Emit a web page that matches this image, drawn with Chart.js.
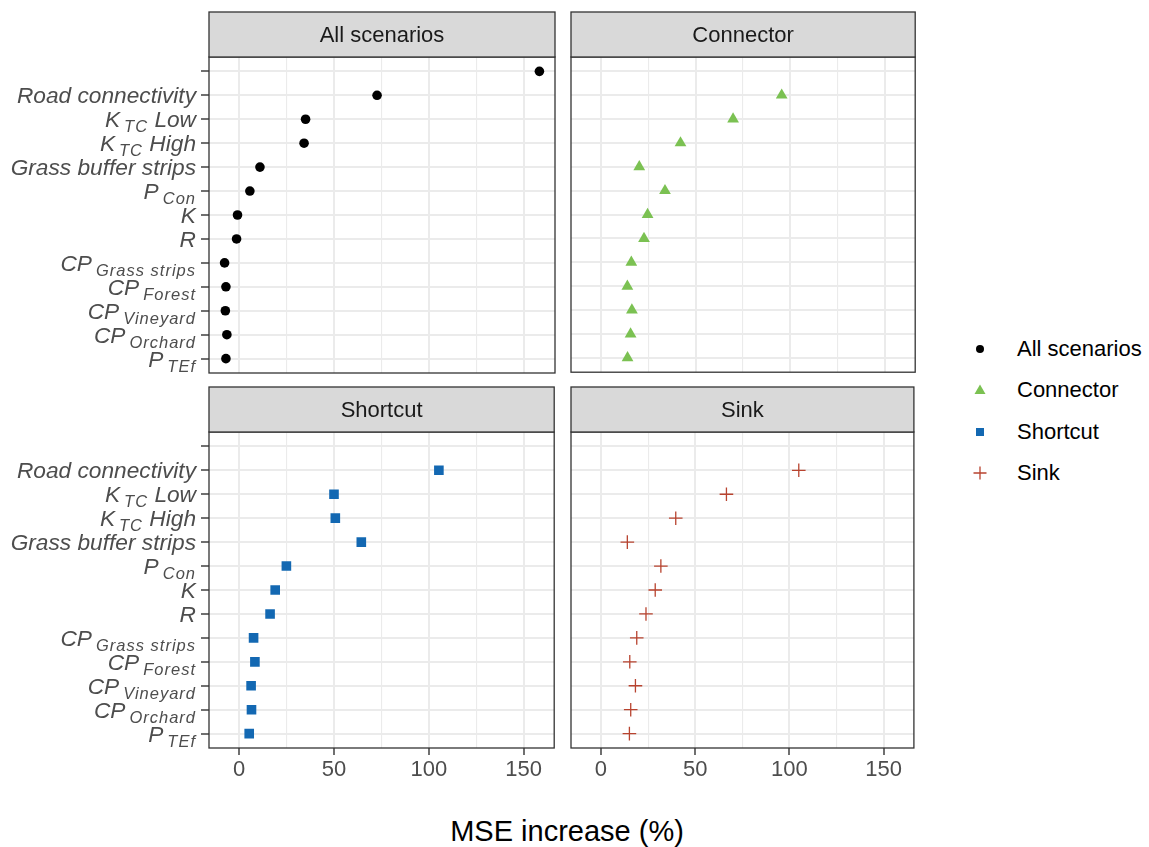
<!DOCTYPE html>
<html>
<head>
<meta charset="utf-8">
<script src="https://cdn.jsdelivr.net/npm/chart.js@4.4.0/dist/chart.umd.min.js"></script>
<style>
  body { margin: 0; background: #fff; }
  #wrap { position: relative; width: 1149px; height: 847px; font-family: "Liberation Sans", Arial, sans-serif; }
  canvas { position: absolute; }
  .leg { position: absolute; left: 968px; height: 30px; display: flex; align-items: center; font-size: 22px; color: #000; }
  .leg svg { width: 24px; height: 24px; margin-right: 25px; }
  #xtitle { position: absolute; left: 0; width: 1134px; top: 815px; text-align: center; font-size: 29px; color: #000; }
</style>
</head>
<body>
<div id="wrap">
  <canvas id="c0"></canvas>
  <canvas id="c1"></canvas>
  <canvas id="c2"></canvas>
  <canvas id="c3"></canvas>
  <div class="leg" style="top:334px"><svg viewBox="0 0 24 24"><circle cx="12" cy="12" r="4" fill="#000"/></svg>All scenarios</div>
  <div class="leg" style="top:375px"><svg viewBox="0 0 24 24"><polygon points="12,6.5 17.5,16 6.5,16" fill="#7bc152"/></svg>Connector</div>
  <div class="leg" style="top:417px"><svg viewBox="0 0 24 24"><rect x="8" y="8" width="8" height="8" fill="#1368b2"/></svg>Shortcut</div>
  <div class="leg" style="top:458px"><svg viewBox="0 0 24 24"><path d="M5.5 12H18.5M12 5.5V18.5" stroke="#b8432f" stroke-width="1.3"/></svg>Sink</div>
  <div id="xtitle">MSE increase (%)</div>
</div>
<script>
// categories, top to bottom (first one has no label)
const categories = ["", "Road connectivity", "K_{TC} Low", "K_{TC} High", "Grass buffer strips",
  "P_{Con}", "K", "R", "CP_{Grass strips}", "CP_{Forest}", "CP_{Vineyard}", "CP_{Orchard}", "P_{TEf}"];

const allScenarios = [157.9, 72.5, 34.9, 34.1, 10.9, 5.6, -0.9, -1.4, -7.7, -7.0, -7.3, -6.5, -7.0];
const connector    = [null, 95.5, 69.8, 42.0, 20.2, 33.8, 24.6, 22.7, 16.0, 13.9, 16.3, 15.6, 14.0];
const shortcut     = [null, 105.3, 50.0, 50.7, 64.4, 24.9, 19.0, 16.3, 7.6, 8.3, 6.3, 6.5, 5.3];
const sink         = [null, 105.0, 66.6, 39.7, 14.0, 31.8, 28.8, 23.9, 19.0, 15.3, 18.3, 15.8, 15.1];

const xTicks = [0, 25, 50, 75, 100, 125, 150];

const colX = [[209, 555], [571, 916]];
const rowY = [[57, 373], [432, 748]];
const stripH = 45;
const FONT = '"Liberation Sans", Arial, sans-serif';

const panels = [
  { id: 'c0', title: 'All scenarios', values: allScenarios, col: 0, row: 0,
    point: { pointStyle: 'circle', radius: 4.8, backgroundColor: '#000', borderWidth: 0 } },
  { id: 'c1', title: 'Connector', values: connector, col: 1, row: 0,
    point: { pointStyle: 'triangle', radius: 6.8, backgroundColor: '#7bc152', borderWidth: 0 } },
  { id: 'c2', title: 'Shortcut', values: shortcut, col: 0, row: 1,
    point: { pointStyle: 'rect', radius: 6.8, backgroundColor: '#1368b2', borderWidth: 0 } },
  { id: 'c3', title: 'Sink', values: sink, col: 1, row: 1,
    point: { pointStyle: 'cross', radius: 6.8, backgroundColor: '#b8432f', borderColor: '#b8432f', borderWidth: 1.3 } }
];

// draw a label with plotmath-like subscripts, right aligned
function drawLabel(ctx, label, xRight, y) {
  const parts = [];
  const re = /_\{([^}]*)\}/g;
  let last = 0, m;
  while ((m = re.exec(label))) {
    if (m.index > last) parts.push({ t: label.slice(last, m.index), sub: false });
    parts.push({ t: m[1], sub: true });
    last = re.lastIndex;
  }
  if (last < label.length) parts.push({ t: label.slice(last), sub: false });
  const mainFont = 'italic 22.7px ' + FONT;
  const subFont = 'italic 16.5px ' + FONT;
  let total = 0;
  parts.forEach(p => {
    ctx.font = p.sub ? subFont : mainFont;
    ctx.letterSpacing = p.sub ? '1px' : '0px';
    p.w = ctx.measureText(p.t).width + (p.sub ? 4 : 0);
    total += p.w;
  });
  let x = xRight - total;
  ctx.fillStyle = '#4d4d4d';
  ctx.textAlign = 'left';
  ctx.textBaseline = 'alphabetic';
  parts.forEach(p => {
    ctx.font = p.sub ? subFont : mainFont;
    ctx.letterSpacing = p.sub ? '1px' : '0px';
    ctx.fillText(p.t, x + (p.sub ? 4 : 0), p.sub ? y + 13 : y + 8);
    x += p.w;
  });
  ctx.letterSpacing = '0px';
}

const facetPlugin = {
  id: 'facet',
  afterDraw(chart, args, opts) {
    const ctx = chart.ctx;
    const a = chart.chartArea;
    ctx.save();
    // panel border
    ctx.strokeStyle = '#333333';
    ctx.lineWidth = 1.3;
    ctx.strokeRect(a.left, a.top, a.right - a.left, a.bottom - a.top);
    // strip
    ctx.fillStyle = '#d9d9d9';
    ctx.fillRect(a.left, a.top - stripH, a.right - a.left, stripH);
    ctx.strokeRect(a.left, a.top - stripH, a.right - a.left, stripH);
    ctx.fillStyle = '#1a1a1a';
    ctx.font = '22px ' + FONT;
    ctx.textAlign = 'center';
    ctx.textBaseline = 'middle';
    ctx.fillText(opts.title, (a.left + a.right) / 2, a.top - stripH / 2 + 1);
    // category labels on the left column
    if (opts.col === 0) {
      const ys = chart.scales.y;
      categories.forEach((c, i) => {
        if (c) drawLabel(ctx, c, a.left - 13, ys.getPixelForValue(i));
      });
    }
    ctx.restore();
  }
};

panels.forEach(p => {
  const cv = document.getElementById(p.id);
  const [pl, pr] = colX[p.col];
  const [pt, pb] = rowY[p.row];
  const cLeft = p.col === 0 ? 0 : 560;
  const cTop = pt - 50;
  const cRight = pr + 6;
  const cBottom = p.row === 1 ? 800 : pb + 6;
  cv.style.left = cLeft + 'px';
  cv.style.top = cTop + 'px';
  cv.width = cRight - cLeft;
  cv.height = cBottom - cTop;
  const bottomRow = p.row === 1;

  new Chart(cv, {
    type: 'scatter',
    data: {
      datasets: [Object.assign({
        label: p.title,
        data: p.values.map((v, i) => v === null ? null : { x: v, y: i }).filter(d => d)
      }, p.point)]
    },
    options: {
      responsive: false,
      animation: false,
      layout: { padding: { top: 50, right: 6, left: 0, bottom: bottomRow ? 0 : 6 } },
      plugins: {
        legend: { display: false },
        tooltip: { enabled: false },
        facet: { title: p.title, col: p.col }
      },
      scales: {
        x: {
          type: 'linear',
          min: -15.9,
          max: 166.1,
          afterBuildTicks: s => { s.ticks = xTicks.map(v => ({ value: v })); },
          afterFit: s => {
            s.height = bottomRow ? cBottom - pb : 0;
            s.paddingLeft = 0;
            s.paddingRight = 0;
          },
          border: { display: false },
          grid: {
            color: '#ebebeb',
            lineWidth: c => (c.tick && c.tick.value % 50 === 0) ? 2 : 1.1,
            drawTicks: bottomRow,
            tickLength: 7,
            tickWidth: 1.4,
            tickColor: c => (c.tick && c.tick.value % 50 === 0) ? '#333333' : 'rgba(0,0,0,0)'
          },
          ticks: {
            display: bottomRow,
            autoSkip: false,
            maxRotation: 0,
            padding: 2,
            color: '#4d4d4d',
            font: { family: FONT, size: 22 },
            callback: v => v % 50 === 0 ? v : ''
          }
        },
        y: {
          type: 'linear',
          reverse: true,
          min: -0.6,
          max: categories.length - 1 + 0.6,
          afterBuildTicks: s => { s.ticks = categories.map((c, i) => ({ value: i })); },
          afterFit: s => { s.width = pl - cLeft; },
          border: { display: false },
          grid: {
            color: '#ebebeb',
            lineWidth: 2,
            drawTicks: p.col === 0,
            tickLength: 8,
            tickWidth: 1.4,
            tickColor: '#333333'
          },
          ticks: { display: false }
        }
      }
    },
    plugins: [facetPlugin]
  });
});
</script>
</body>
</html>
